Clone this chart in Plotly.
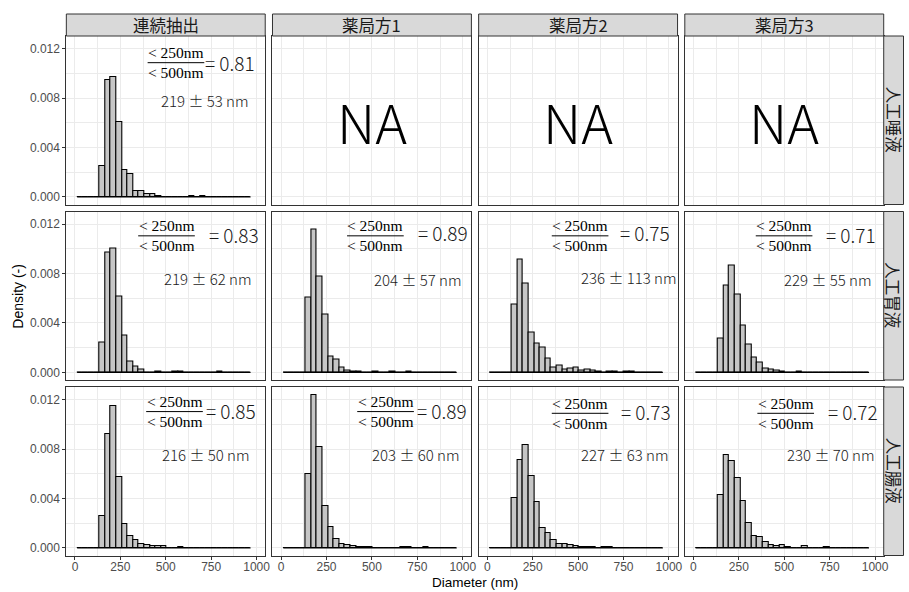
import plotly.graph_objects as go

# ---------------- data ----------------
COLS = ["連続抽出", "薬局方1", "薬局方2", "薬局方3"]
ROWS = ["人工唾液", "人工胃液", "人工腸液"]

BIN_START = 12.0
BIN_WIDTH = 30.8
N_BINS = 31

# densities per bin (31 bins), None = panel not available
SALIVA_CONT = [0, 0, 0, 0, 0.00251, 0.00944, 0.00973, 0.00609, 0.00216, 0.00181, 0.00046,
               0.00046, 0.00022, 0.00022, 0.00008, 0, 0, 0, 0, 0, 0.00008, 0, 0.00008, 0, 0,
               0, 0, 0, 0, 0, 0]
GASTRIC_CONT = [0, 0, 0, 0, 0.00243, 0.00970, 0.01005, 0.00614, 0.00297, 0.00086, 0.00051,
                0.00024, 0, 0, 0.00010, 0, 0, 0.00008, 0.00008, 0, 0, 0, 0, 0, 0,
                0.00008, 0, 0, 0, 0, 0]
GASTRIC_JP1 = [0, 0, 0, 0, 0.00608, 0.01154, 0.00776, 0.00465, 0.00132, 0.00100, 0.00038,
               0.00016, 0.00010, 0.00010, 0, 0, 0.00008, 0, 0, 0.00006, 0, 0, 0.00005, 0, 0,
               0, 0, 0, 0, 0, 0]
GASTRIC_JP2 = [0, 0, 0, 0, 0.00546, 0.00916, 0.00716, 0.00322, 0.00230, 0.00200, 0.00114,
               0.00038, 0.00054, 0.00027, 0.00030, 0.00043, 0.00016, 0.00019, 0.00014, 0.00010,
               0, 0.00008, 0.00008, 0, 0.00005, 0.00005, 0, 0, 0, 0, 0]
GASTRIC_JP3 = [0, 0, 0, 0, 0.00276, 0.00703, 0.00865, 0.00627, 0.00378, 0.00222, 0.00122,
               0.00076, 0.00032, 0.00022, 0.00011, 0.00005, 0, 0, 0.00005, 0, 0, 0, 0, 0, 0,
               0, 0, 0, 0, 0, 0]
INTEST_CONT = [0, 0, 0, 0, 0.00256, 0.00921, 0.01145, 0.00571, 0.00194, 0.00097, 0.00067,
               0.00032, 0.00019, 0.00011, 0.00013, 0.00011, 0, 0, 0.00008, 0, 0, 0, 0, 0, 0,
               0, 0, 0, 0, 0, 0]
INTEST_JP1 = [0, 0, 0, 0, 0.00598, 0.01240, 0.00819, 0.00342, 0.00167, 0.00070, 0.00032,
              0.00019, 0.00013, 0.00010, 0.00008, 0.00008, 0, 0, 0, 0, 0, 0.00005, 0.00005, 0, 0,
              0.00005, 0, 0, 0, 0, 0]
INTEST_JP2 = [0, 0, 0, 0, 0.00401, 0.00711, 0.00832, 0.00585, 0.00369, 0.00159, 0.00119,
              0.00065, 0.00032, 0.00030, 0.00024, 0.00013, 0.00008, 0.00005, 0.00005, 0,
              0.00005, 0.00005, 0, 0, 0, 0, 0, 0, 0, 0, 0]
INTEST_JP3 = [0, 0, 0, 0, 0.00431, 0.00752, 0.00706, 0.00568, 0.00377, 0.00202, 0.00092,
              0.00086, 0.00046, 0.00024, 0.00016, 0.00022, 0.00008, 0, 0, 0.00011, 0, 0, 0,
              0.00008, 0, 0, 0, 0, 0, 0, 0]

PANEL_DATA = [
    [SALIVA_CONT, None, None, None],
    [GASTRIC_CONT, GASTRIC_JP1, GASTRIC_JP2, GASTRIC_JP3],
    [INTEST_CONT, INTEST_JP1, INTEST_JP2, INTEST_JP3],
]

RATIOS = [
    ["0.81", None, None, None],
    ["0.83", "0.89", "0.75", "0.71"],
    ["0.85", "0.89", "0.73", "0.72"],
]
MEANS = [[219, None, None, None], [219, 204, 236, 229], [216, 203, 227, 230]]
SDS = [[53, None, None, None], [62, 57, 113, 55], [50, 60, 63, 70]]

X_TICKS = [0, 250, 500, 750, 1000]
X_MINOR = [125, 375, 625, 875]
Y_TICKS = [0.000, 0.004, 0.008, 0.012]
Y_MINOR = [0.002, 0.006, 0.010]

# ---------------- annotation placement (data coords) ----------------
# fraction centre x, fraction line y, "= r" centre x, "= r" y, stat text x, stat text y
PLACE = [
    [(556, 0.01086, 856, 0.01086, 715, 0.00777), None, None, None],
    [(504, 0.01105, 874, 0.01119, 732, 0.00761), (519, 0.01105, 893, 0.01132, 754, 0.00755),
     (511, 0.01105, 870, 0.01135, 778, 0.00764), (499, 0.01105, 868, 0.01119, 742, 0.00755)],
    [(548, 0.01103, 858, 0.01115, 719, 0.00758), (575, 0.01103, 887, 0.01115, 745, 0.00758),
     (511, 0.01089, 876, 0.01107, 760, 0.00752), (508, 0.01089, 880, 0.01103, 758, 0.00752)],
]
FRAC_HALF = 156

# ---------------- layout geometry (px) ----------------
W, H = 909, 592
COL_LEFT = [66.7, 274.0, 481.3, 688.6]
ROW_TOP = [36.0, 211.5, 387.0]
PW, PH = 200.0, 168.5
STRIP_TOP = 14.0
RSTRIP_RIGHT = 908.5
X_RANGE = [-47.6, 1047.6]
Y_RANGE = [-0.00062, 0.01302]

JP = "Noto Sans CJK JP"
SANS = "Liberation Sans, Arial, sans-serif"
SERIF = "Liberation Serif, DejaVu Serif, serif"

edges = [BIN_START + BIN_WIDTH * k for k in range(N_BINS + 1)]
centers = [(edges[k] + edges[k + 1]) / 2 for k in range(N_BINS)]

fig = go.Figure()
layout = dict(
    width=W, height=H, margin=dict(l=0, r=0, t=0, b=0),
    paper_bgcolor="white", plot_bgcolor="white", showlegend=False,
    bargap=0, barmode="overlay",
)
shapes = []
annotations = []

for r in range(3):
    for c in range(4):
        idx = r * 4 + c + 1
        xa = "x" if idx == 1 else f"x{idx}"
        ya = "y" if idx == 1 else f"y{idx}"
        xkey = "xaxis" if idx == 1 else f"xaxis{idx}"
        ykey = "yaxis" if idx == 1 else f"yaxis{idx}"
        left = COL_LEFT[c]
        top = ROW_TOP[r]
        bottom_row = r == 2
        left_col = c == 0
        layout[xkey] = dict(
            domain=[left / W, (left + PW) / W], anchor=ya, range=X_RANGE,
            tickmode="array", tickvals=X_TICKS, ticktext=[str(v) for v in X_TICKS],
            showticklabels=bottom_row, ticks="outside" if bottom_row else "",
            ticklen=3, tickwidth=1, tickcolor="#333333", ticklabelstandoff=-3,
            tickfont=dict(family=SANS, size=12, color="#4D4D4D"),
            showgrid=True, gridcolor="#EBEBEB", gridwidth=1.1,
            minor=dict(tickvals=X_MINOR, showgrid=True, gridcolor="#EBEBEB", gridwidth=0.6),
            showline=True, mirror=True, linecolor="#333333", linewidth=1,
            zeroline=False, fixedrange=True,
        )
        layout[ykey] = dict(
            domain=[1 - (top + PH) / H, 1 - top / H], anchor=xa, range=Y_RANGE,
            tickmode="array", tickvals=Y_TICKS, ticktext=[f"{v:.3f}" for v in Y_TICKS],
            showticklabels=left_col, ticks="outside" if left_col else "",
            ticklen=3, tickwidth=1, tickcolor="#333333",
            tickfont=dict(family=SANS, size=12, color="#4D4D4D"),
            showgrid=True, gridcolor="#EBEBEB", gridwidth=1.1,
            minor=dict(tickvals=Y_MINOR, showgrid=True, gridcolor="#EBEBEB", gridwidth=0.6),
            showline=True, mirror=True, linecolor="#333333", linewidth=1,
            zeroline=False, fixedrange=True,
        )

        dens = PANEL_DATA[r][c]
        if dens is None:
            # empty trace so that the panel is drawn
            fig.add_trace(go.Scatter(x=[None], y=[None], mode="markers", xaxis=xa, yaxis=ya,
                                     hoverinfo="skip"))
            annotations.append(dict(
                text="NA", xref=xa, yref=ya,
                x=(X_RANGE[0] + X_RANGE[1]) / 2, y=(Y_RANGE[0] + Y_RANGE[1]) / 2,
                showarrow=False, font=dict(family=JP, size=54, color="black", weight=300),
                xanchor="center", yanchor="middle"))
            continue

        # baseline from zero-height bins
        fig.add_trace(go.Scatter(
            x=[edges[0], edges[-1]], y=[0, 0], mode="lines",
            line=dict(color="black", width=1.1), xaxis=xa, yaxis=ya, hoverinfo="skip"))
        fig.add_trace(go.Bar(
            x=centers, y=dens, width=BIN_WIDTH, xaxis=xa, yaxis=ya,
            marker=dict(color="#C6C6C6", line=dict(color="black", width=1.1))))

        fx, fy, ex, ey, sx, sy = PLACE[r][c]
        shapes.append(dict(type="line", xref=xa, yref=ya, x0=fx - FRAC_HALF, x1=fx + FRAC_HALF,
                           y0=fy, y1=fy, line=dict(color="black", width=1)))
        annotations.append(dict(text="&lt; 250nm", xref=xa, yref=ya, x=fx, y=fy, yshift=10,
                                showarrow=False, xanchor="center", yanchor="middle",
                                font=dict(family=SERIF, size=15.5, color="black")))
        annotations.append(dict(text="&lt; 500nm", xref=xa, yref=ya, x=fx, y=fy, yshift=-10,
                                showarrow=False, xanchor="center", yanchor="middle",
                                font=dict(family=SERIF, size=15.5, color="black")))
        annotations.append(dict(text=f"= {RATIOS[r][c]}", xref=xa, yref=ya, x=ex, y=ey,
                                showarrow=False, xanchor="center", yanchor="middle",
                                font=dict(family=JP, size=19, color="#1A1A1A", weight=300)))
        annotations.append(dict(text=f"{MEANS[r][c]} ± {SDS[r][c]} nm", xref=xa, yref=ya,
                                x=sx, y=sy, showarrow=False, xanchor="center", yanchor="middle",
                                font=dict(family=JP, size=15, color="#1A1A1A", weight=300)))

# top strips
for c, name in enumerate(COLS):
    left = COL_LEFT[c]
    shapes.append(dict(type="rect", xref="paper", yref="paper",
                       x0=left / W, x1=(left + PW) / W,
                       y0=1 - ROW_TOP[0] / H, y1=1 - STRIP_TOP / H,
                       fillcolor="#D9D9D9", line=dict(color="#333333", width=1)))
    annotations.append(dict(text=name, xref="paper", yref="paper",
                            x=(left + PW / 2) / W, y=1 - (STRIP_TOP + ROW_TOP[0]) / 2 / H,
                            showarrow=False, xanchor="center", yanchor="middle",
                            font=dict(family=JP, size=16.5, color="#1A1A1A")))
# right strips
rs_left = COL_LEFT[3] + PW
for r, name in enumerate(ROWS):
    top = ROW_TOP[r]
    shapes.append(dict(type="rect", xref="paper", yref="paper",
                       x0=rs_left / W, x1=RSTRIP_RIGHT / W,
                       y0=1 - (top + PH) / H, y1=1 - top / H,
                       fillcolor="#D9D9D9", line=dict(color="#333333", width=1)))
    annotations.append(dict(text=name, xref="paper", yref="paper",
                            x=(rs_left + RSTRIP_RIGHT) / 2 / W, y=1 - (top + PH / 2) / H,
                            textangle=90, showarrow=False, xanchor="center", yanchor="middle",
                            font=dict(family=JP, size=16.5, color="#1A1A1A")))

# axis titles
annotations.append(dict(text="Diameter (nm)", xref="paper", yref="paper",
                        x=(COL_LEFT[0] + COL_LEFT[3] + PW) / 2 / W, y=0.5 / H,
                        showarrow=False, xanchor="center", yanchor="bottom",
                        font=dict(family=SANS, size=13.5, color="black")))
annotations.append(dict(text="Density (-)", xref="paper", yref="paper",
                        x=18 / W, y=1 - (ROW_TOP[0] + ROW_TOP[2] + PH) / 2 / H, textangle=-90,
                        showarrow=False, xanchor="center", yanchor="middle",
                        font=dict(family=SANS, size=14, color="black")))

layout["shapes"] = shapes
layout["annotations"] = annotations
fig.update_layout(**layout)
fig.write_html("out.html")
